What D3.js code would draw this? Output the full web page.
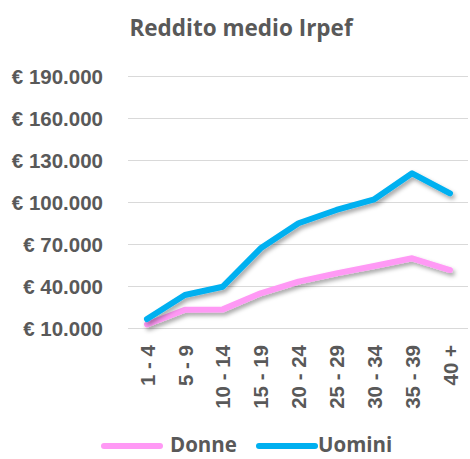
<!DOCTYPE html>
<html>
<head>
<meta charset="utf-8">
<script src="https://cdn.jsdelivr.net/npm/d3@7"></script>
<style>
  html, body { margin: 0; padding: 0; background: #fff; }
  svg { display: block; font-family: "Open Sans", Lato, sans-serif; }
</style>
</head>
<body>
<svg id="chart" width="470" height="459"></svg>
<script>
// Reddito medio Irpef per classe
const categories = ["1 - 4", "5 - 9", "10 - 14", "15 - 19", "20 - 24", "25 - 29", "30 - 34", "35 - 39", "40 +"];
const donne  = [12500, 23000, 23300, 34800, 43100, 49000, 54300, 59800, 51400];
const uomini = [16400, 33600, 39500, 66900, 84800, 94300, 101900, 120500, 106200];
const yTicks = [10000, 40000, 70000, 100000, 130000, 160000, 190000];
const seriesNames = ["Donne", "Uomini"];
const seriesColors = ["#FF99F5", "#00B0F0"];

const svg = d3.select("#chart");
const margin = { left: 128, right: 468, top: 76, bottom: 328 };

const x = d3.scalePoint().domain(categories).range([147, 450]);
const y = d3.scaleLinear().domain([10000, 190000]).range([margin.bottom, margin.top]);

const fmt = v => "€ " + d3.format(",")(v).replace(/,/g, ".");

// drop shadow for the lines
const defs = svg.append("defs");
const f = defs.append("filter").attr("id", "shadow")
  .attr("x", "-10%").attr("y", "-20%").attr("width", "130%").attr("height", "150%");
f.append("feDropShadow").attr("dx", 2).attr("dy", 3).attr("stdDeviation", 2.2)
  .attr("flood-color", "#000").attr("flood-opacity", 0.35);

// title
svg.append("text").attr("x", 241).attr("y", 36).attr("text-anchor", "middle")
  .attr("font-size", 22.5).attr("font-weight", "bold").attr("fill", "#595959")
  .text("Reddito medio Irpef");

// gridlines + y axis
const yAxis = d3.axisLeft(y).tickValues(yTicks).tickFormat(fmt)
  .tickSize(-(margin.right - margin.left)).tickPadding(25);
const gy = svg.append("g").attr("transform", `translate(${margin.left},0)`).call(yAxis);
gy.select(".domain").remove();
gy.selectAll(".tick line").attr("stroke", "#d9d9d9").attr("stroke-width", 1);
gy.selectAll(".tick text").attr("font-size", 20.5).attr("font-weight", "bold")
  .attr("fill", "#595959").attr("dy", "0.35em");

// x axis labels (rotated)
const xAxis = d3.axisBottom(x).tickSize(0).tickPadding(0);
const gx = svg.append("g").attr("transform", `translate(0,${margin.bottom})`).call(xAxis);
gx.select(".domain").remove();
gx.selectAll(".tick text")
  .attr("font-size", 20.5).attr("font-weight", "bold").attr("fill", "#595959")
  .attr("text-anchor", "end")
  .attr("transform", "translate(0,17) rotate(-90)")
  .attr("dx", 0).attr("dy", "0.35em").attr("y", 0).attr("x", 0);

// lines
const line = d3.line().x((d, i) => x(categories[i])).y(d => y(d));
[donne, uomini].forEach((vals, k) => {
  svg.append("path").datum(vals)
    .attr("d", line)
    .attr("fill", "none")
    .attr("stroke", seriesColors[k])
    .attr("stroke-width", 6)
    .attr("stroke-linecap", "round")
    .attr("stroke-linejoin", "round")
    .attr("filter", "url(#shadow)");
});

// legend
const legendItems = [{ x: 104, tx: 170 }, { x: 259, tx: 318 }];
legendItems.forEach((it, k) => {
  svg.append("line").attr("x1", it.x).attr("x2", it.x + 56)
    .attr("y1", 446).attr("y2", 446)
    .attr("stroke", seriesColors[k]).attr("stroke-width", 6).attr("stroke-linecap", "round");
  svg.append("text").attr("x", it.tx).attr("y", 445).attr("dy", "0.35em")
    .attr("font-size", 20.5).attr("font-weight", "bold").attr("fill", "#595959")
    .text(seriesNames[k]);
});
</script>
</body>
</html>
